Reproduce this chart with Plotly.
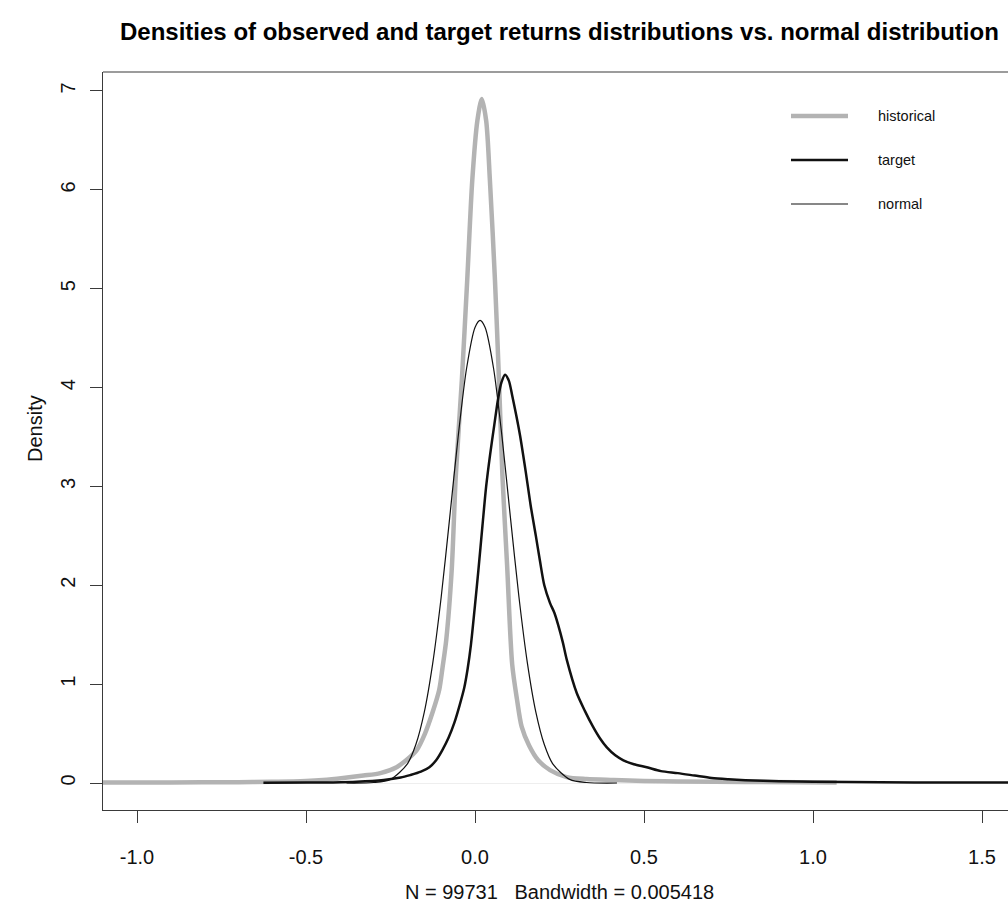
import plotly.graph_objects as go

# ---- data ----
hist_x = [-1.15, -0.9, -0.7, -0.6, -0.5, -0.45, -0.39, -0.33, -0.28, -0.232, -0.2, -0.173,
          -0.148, -0.125, -0.106, -0.096, -0.085, -0.069, -0.057, -0.039, -0.023, -0.008,
          0.007, 0.02, 0.033, 0.044, 0.059, 0.071, 0.081, 0.095, 0.11, 0.124, 0.138, 0.16,
          0.187, 0.222, 0.271, 0.33, 0.41, 0.5, 0.6, 0.8, 1.07]
hist_y = [0.004, 0.006, 0.008, 0.012, 0.02, 0.03, 0.05, 0.075, 0.10, 0.16, 0.24, 0.33,
          0.50, 0.72, 0.94, 1.17, 1.45, 2.15, 3.1, 4.07, 5.09, 6.10,
          6.70, 6.92, 6.70, 6.10, 5.09, 4.07, 3.12, 2.2, 1.2, 0.85, 0.57, 0.38,
          0.23, 0.13, 0.06, 0.04, 0.03, 0.02, 0.015, 0.01, 0.005]

tgt_x = [-0.626, -0.5, -0.42, -0.35, -0.27, -0.22, -0.192, -0.16, -0.135, -0.115, -0.097,
         -0.078, -0.061, -0.046, -0.032, -0.022, -0.012, 0.0, 0.010, 0.022, 0.033, 0.045,
         0.057, 0.068, 0.078, 0.089, 0.1, 0.11, 0.122, 0.133, 0.15, 0.165, 0.18, 0.192,
         0.205, 0.222, 0.235, 0.246, 0.26, 0.272, 0.301, 0.325, 0.349, 0.37, 0.39, 0.415,
         0.439, 0.47, 0.508, 0.55, 0.6, 0.65, 0.7, 0.75, 0.8, 0.9, 1.0, 1.2, 1.4, 1.6]
tgt_y = [0.002, 0.004, 0.006, 0.012, 0.03, 0.055, 0.08, 0.115, 0.16, 0.23, 0.33,
         0.46, 0.61, 0.78, 0.96, 1.15, 1.4, 1.8, 2.15, 2.6, 3.0, 3.33,
         3.62, 3.88, 4.05, 4.13, 4.07, 3.92, 3.72, 3.52, 3.15, 2.8, 2.5, 2.25,
         2.0, 1.82, 1.72, 1.6, 1.42, 1.24, 0.91, 0.73, 0.57, 0.45, 0.36, 0.28,
         0.23, 0.19, 0.16, 0.12, 0.10, 0.075, 0.05, 0.037, 0.028, 0.018, 0.013, 0.008,
         0.005, 0.004]

norm_x = [-0.38, -0.30, -0.25, -0.20, -0.175, -0.15, -0.125, -0.10, -0.075, -0.05, -0.025,
          0.0, 0.015, 0.03, 0.055, 0.08, 0.105, 0.13, 0.155, 0.18, 0.205, 0.23, 0.28,
          0.33, 0.42]
norm_y = [0.0, 0.005, 0.037, 0.194, 0.389, 0.717, 1.213, 1.882, 2.679, 3.498, 4.193,
          4.608, 4.68, 4.608, 4.193, 3.498, 2.679, 1.882, 1.213, 0.717, 0.389, 0.194, 0.037,
          0.005, 0.0]

x_ticks = [-1.0, -0.5, 0.0, 0.5, 1.0, 1.5]
x_tick_labels = ["-1.0", "-0.5", "0.0", "0.5", "1.0", "1.5"]
y_ticks = [0, 1, 2, 3, 4, 5, 6, 7]
y_tick_labels = ["0", "1", "2", "3", "4", "5", "6", "7"]

series_names = ["historical", "target", "normal"]
series_colors = ["#b3b3b3", "#111111", "#111111"]
series_widths = [4.5, 2.5, 1.2]

title_text = "Densities of observed and target returns distributions vs. normal distribution"
xlab_text = "N = 99731\u00a0\u00a0 Bandwidth = 0.005418"
ylab_text = "Density"

# ---- figure ----
W, H = 1008, 904
L, R, T, B = 103, 0, 72, 94
FONT = "Liberation Sans, Arial, Helvetica, sans-serif"
AXC = "#3a3a3a"

fig = go.Figure()
for xs, ys, nm, col, lw in zip([hist_x, tgt_x, norm_x], [hist_y, tgt_y, norm_y],
                               series_names, series_colors, series_widths):
    fig.add_trace(go.Scatter(x=xs, y=ys, mode="lines", name=nm,
                             line=dict(color=col, width=lw, shape="spline", smoothing=0.8),
                             showlegend=False))

def px_x(p):
    return (p - L) / (W - L - R)

def px_y(p):
    return 1 - (p - T) / (H - T - B)

shapes = []
annotations = []
# top border of box
shapes.append(dict(type="line", xref="paper", yref="paper", x0=0, x1=1, y0=1, y1=1,
                   line=dict(color=AXC, width=1.2)))
# legend
leg_rows = [116, 160, 204]
for row, nm, col, lw in zip(leg_rows, series_names, series_colors, series_widths):
    shapes.append(dict(type="line", xref="paper", yref="paper",
                       x0=px_x(791), x1=px_x(848), y0=px_y(row), y1=px_y(row),
                       line=dict(color=col, width=lw)))
    annotations.append(dict(text=nm, xref="paper", yref="paper", x=px_x(876), y=px_y(row),
                            xanchor="left", yanchor="middle", showarrow=False,
                            font=dict(family=FONT, size=14.5, color="#111111")))

annotations.append(dict(text="<b>" + title_text + "</b>", xref="paper", yref="paper",
                        x=px_x(559), y=px_y(32), xanchor="center", yanchor="middle",
                        showarrow=False, font=dict(family=FONT, size=24, color="#000000")))
annotations.append(dict(text=xlab_text, xref="paper", yref="paper",
                        x=px_x(559), y=px_y(892), xanchor="center", yanchor="middle",
                        showarrow=False, font=dict(family=FONT, size=20, color="#111111")))
annotations.append(dict(text=ylab_text, xref="paper", yref="paper",
                        x=px_x(35), y=px_y(429), xanchor="center", yanchor="middle",
                        textangle=-90, showarrow=False,
                        font=dict(family=FONT, size=20, color="#111111")))

fig.update_layout(
    width=W, height=H,
    margin=dict(l=L, r=R, t=T, b=B, pad=0),
    paper_bgcolor="white", plot_bgcolor="white",
    showlegend=False,
    shapes=shapes, annotations=annotations,
    xaxis=dict(range=[-1.1006, 1.5769], tickvals=x_ticks, ticktext=x_tick_labels,
               showgrid=False, zeroline=False, showline=True, linecolor=AXC,
               linewidth=1.2, ticks="outside", ticklen=12, tickwidth=1.2, tickcolor=AXC,
               tickfont=dict(family=FONT, size=20, color="#111111"),
               ticklabelstandoff=17),
    yaxis=dict(range=[-0.2731, 7.192], tickvals=y_ticks, ticktext=y_tick_labels,
               showgrid=False, zeroline=True, zerolinecolor="#eeeeee", zerolinewidth=1,
               showline=True, linecolor=AXC, linewidth=1.2,
               ticks="outside", ticklen=12, tickwidth=1.2, tickcolor=AXC, tickangle=-90,
               tickfont=dict(family=FONT, size=20, color="#111111"),
               ticklabelstandoff=7),
)

fig.write_html("out.html")
